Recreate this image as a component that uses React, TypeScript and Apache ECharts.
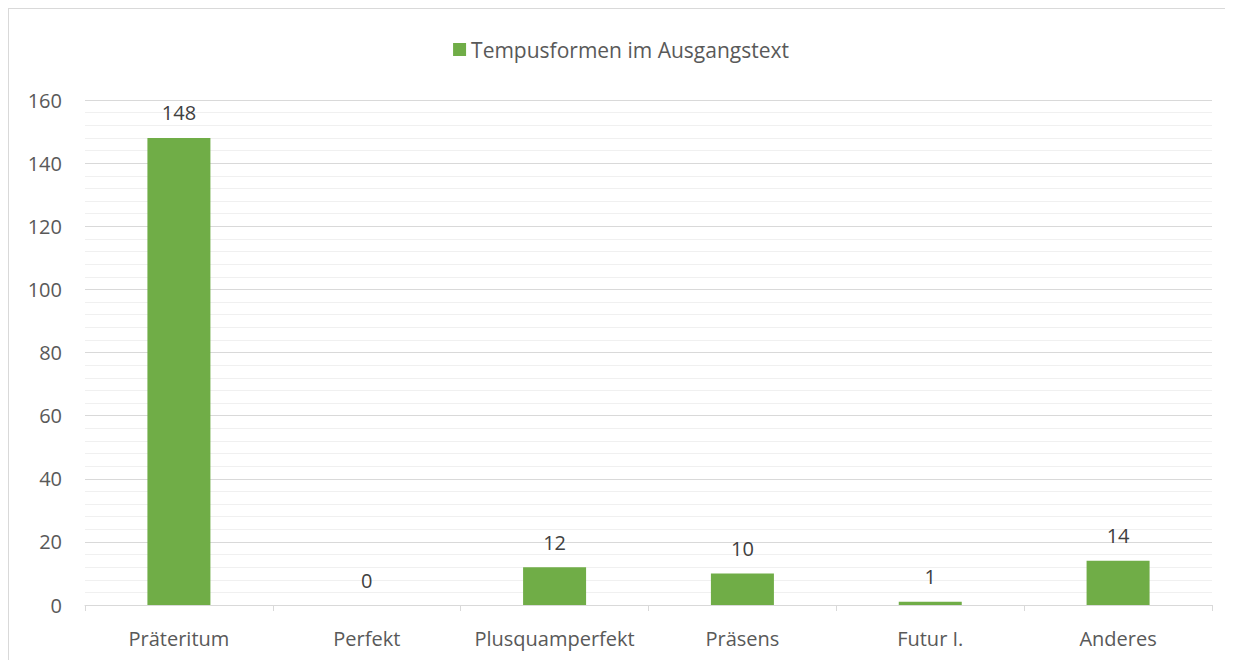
import React, { useEffect, useRef } from "react";
import * as echarts from "echarts";

const categories = ["Präteritum", "Perfekt", "Plusquamperfekt", "Präsens", "Futur I.", "Anderes"];
const values = [148, 0, 12, 10, 1, 14];
const seriesName = "Tempusformen im Ausgangstext";

export default function App() {
  const ref = useRef<HTMLDivElement>(null);
  useEffect(() => {
    if (!ref.current) return;
    const chart = echarts.init(ref.current, undefined, { renderer: "svg" });
    const font = "'Open Sans', 'Noto Sans', sans-serif";
    chart.setOption({
      animation: false,
      textStyle: { fontFamily: font },
      legend: {
        top: 25,
        left: "center",
        itemWidth: 13,
        itemHeight: 13,
        itemGap: 5,
        icon: "rect",
        textStyle: { fontFamily: font, fontSize: 21, color: "#595959" },
        data: [seriesName],
      },
      grid: { left: 76, right: 21, top: 91, bottom: 55, containLabel: false },
      xAxis: {
        type: "category",
        data: categories,
        boundaryGap: true,
        axisLine: { lineStyle: { color: "#d9d9d9", width: 1 } },
        axisTick: { show: true, length: 6, lineStyle: { color: "#d9d9d9" } },
        axisLabel: { color: "#595959", fontSize: 20, fontFamily: font, margin: 23, interval: 0 },
      },
      yAxis: {
        type: "value",
        min: 0,
        max: 160,
        interval: 20,
        axisLine: { show: false },
        axisTick: { show: false },
        axisLabel: { color: "#595959", fontSize: 20, fontFamily: font, margin: 23 },
        splitLine: { lineStyle: { color: "#d9d9d9", width: 1 } },
        minorTick: { show: false, splitNumber: 5 },
        minorSplitLine: { show: true, lineStyle: { color: "#f0f0f0", width: 1 } },
      },
      series: [
        {
          name: seriesName,
          type: "bar",
          data: values,
          barWidth: 63,
          itemStyle: { color: "#70ad47" },
          label: {
            show: true,
            position: "top",
            distance: 15,
            color: "#404040",
            fontSize: 20,
            fontFamily: font,
          },
        },
      ],
    });
    return () => chart.dispose();
  }, []);
  return (
    <div
      style={{
        width: 1225,
        height: 652,
        borderTop: "1px solid #d9d9d9",
        borderLeft: "1px solid #d9d9d9",
        boxSizing: "border-box",
        background: "#fff",
      }}
    >
      <div ref={ref} style={{ width: 1224, height: 651 }} />
    </div>
  );
}
